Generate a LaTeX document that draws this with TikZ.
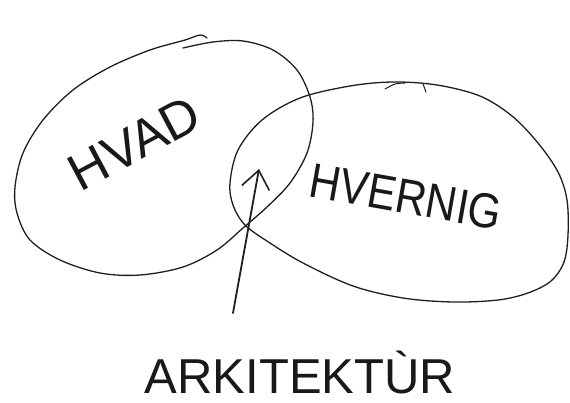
\documentclass[tikz,border=0pt]{standalone}
\usepackage{fontspec}
\setmainfont{Liberation Sans}
\usetikzlibrary{arrows.meta}
\begin{document}
\begin{tikzpicture}[x=1pt,y=-1pt,line cap=round,line join=round,
  sketch/.style={line width=1.3pt,draw=black!88},
  hand/.style={font=\fontsize{49}{49}\selectfont,inner sep=0pt,text=black!90,anchor=base}]
\useasboundingbox (0,0) rectangle (570,402);
\fill[white] (0,0) rectangle (570,402);
% left loop (HVAD)
\draw[sketch] plot[smooth,tension=0.55] coordinates {
 (183,48) (213,42) (243,41) (273,50) (297,70) (310,97) (313,122) (307,153)
 (290,183) (267,207) (243,228) (217,250) (183,267) (140,275) (100,273)
 (60,260) (30,240) (17,213) (15,187) (23,153) (43,120) (73,90) (110,67)
 (150,50) (185,40) (200,35) (207,38)};
% right loop (HVERNIG)
\draw[sketch] plot[smooth cycle,tension=0.55] coordinates {
 (230,183) (238,150) (262,120) (300,98) (350,86) (393,82) (437,85) (480,96)
 (512,116) (538,143) (558,172) (567,200) (568,235) (564,262) (551,281)
 (528,293) (498,300) (453,302) (403,298) (353,286) (303,263) (270,243)
 (245,225) (233,205)};
\draw[sketch,line width=1pt] plot[smooth] coordinates {(385,89) (395,84) (405,83)};
\draw[sketch,line width=1pt] (423,84) -- (426,92);
% labels
\node[hand,rotate=28,font=\fontsize{52}{52}\selectfont] (hvad) at (143,159) {HVAD};
\node[hand,rotate=-10,xscale=0.87] (hvernig) at (403,213) {HVERNIG};
\node[hand] (ark) at (300,393) {ARKITEKTÙR};
% arrow
\coordinate (tail) at (233,313);
\coordinate (tip) at (259,169);
\draw[sketch,line width=1.8pt,-{Straight Barb[length=18pt,width=28pt,line width=1.6pt]}] (tail) -- (tip);
\end{tikzpicture}
\end{document}
